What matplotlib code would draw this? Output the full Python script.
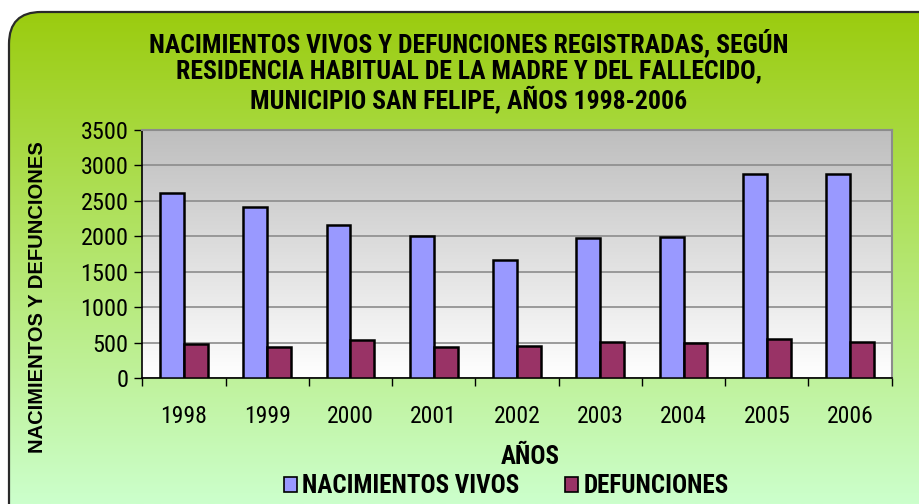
import numpy as np
import matplotlib
matplotlib.use("Agg")
import matplotlib.pyplot as plt
from matplotlib.patches import FancyBboxPatch

years = ["1998", "1999", "2000", "2001", "2002", "2003", "2004", "2005", "2006"]
nacimientos = [2610, 2410, 2155, 2005, 1670, 1975, 1990, 2885, 2885]
defunciones = [488, 437, 540, 437, 455, 512, 493, 558, 512]
series_names = ["NACIMIENTOS VIVOS", "DEFUNCIONES"]
title = ("NACIMIENTOS VIVOS Y DEFUNCIONES REGISTRADAS, SEGÚN\n"
         "RESIDENCIA HABITUAL DE LA MADRE Y DEL FALLECIDO,\n"
         "MUNICIPIO SAN FELIPE, AÑOS 1998-2006")
yticks = [0, 500, 1000, 1500, 2000, 2500, 3000, 3500]

W, H = 919, 504
fig = plt.figure(figsize=(W / 100, H / 100), dpi=100, facecolor="white")

narrow = ["Roboto Condensed", "PT Sans Narrow", "DejaVu Sans"]
tickfont = ["Roboto Condensed", "Liberation Sans", "DejaVu Sans"]
regular = ["Liberation Sans", "DejaVu Sans"]

# Background panel: rounded box with a vertical green gradient
bg = fig.add_axes([0, 0, 1, 1], zorder=-2)
bg.set_xlim(0, W)
bg.set_ylim(H, 0)
bg.axis("off")
top_c = np.array([155, 204, 15]) / 255
bot_c = np.array([204, 255, 204]) / 255
t = np.linspace(0, 1, 256)[:, None]
grad = (top_c[None, :] * (1 - t) + bot_c[None, :] * t)[:, None, :]
panel = FancyBboxPatch((9, 12), 1000, 600, boxstyle="round,pad=0,rounding_size=32",
                       facecolor="none", edgecolor="#2a2a2a", linewidth=1.6,
                       transform=bg.transData, zorder=3)
bg.add_patch(panel)
im = bg.imshow(grad, extent=(9, W, 504, 12), aspect="auto", zorder=1, interpolation="bilinear")
im.set_clip_path(panel)

# Plot area
left, right = 142.3, 891.7
top, bottom = 130.0, 378.3
ax = fig.add_axes([left / W, 1 - bottom / H, (right - left) / W, (bottom - top) / H])
ax.set_ylim(0, 3500)
n = len(years)
ax.set_xlim(-0.5, n - 0.5)
ax.patch.set_alpha(0)

# gray-to-white gradient inside the plot area
pg = np.linspace(0, 1, 256)[:, None]
pc = (np.array([190, 190, 190]) / 255)[None, :] * (1 - pg) + np.array([1, 1, 1])[None, :] * pg
ax.imshow(pc[:, None, :], extent=(-0.5, n - 0.5, 0, 3500), aspect="auto", zorder=0,
          interpolation="bilinear")

x = np.arange(n)
bw = 1 / 3.5
ax.bar(x - bw / 2, nacimientos, width=bw, color="#9999FF", edgecolor="black",
       linewidth=1.8, zorder=3, label=series_names[0])
ax.bar(x + bw / 2, defunciones, width=bw, color="#993366", edgecolor="black",
       linewidth=1.8, zorder=3, label=series_names[1])

ax.set_yticks(yticks)
ax.yaxis.grid(True, color="#8c8c8c", linewidth=1.2, zorder=1)
ax.set_xticks(x)
ax.set_xticklabels(years, fontfamily=tickfont, fontsize=17)
ax.set_xticks(np.arange(n + 1) - 0.5, minor=True)
ax.tick_params(axis="x", which="major", length=0, pad=19)
ax.tick_params(axis="x", which="minor", length=6, width=1, color="black", direction="out")
ax.tick_params(axis="y", length=6, width=1, color="black", pad=4)
for lbl in ax.get_yticklabels():
    lbl.set_fontfamily(tickfont)
    lbl.set_fontsize(17.5)

ax.spines["left"].set_color("black")
ax.spines["bottom"].set_color("black")
ax.spines["left"].set_linewidth(1.2)
ax.spines["bottom"].set_linewidth(1.2)
ax.spines["top"].set_color("#8c8c8c")
ax.spines["right"].set_color("#8c8c8c")
ax.spines["top"].set_linewidth(1.5)
ax.spines["right"].set_linewidth(1.5)

# Texts
fig.text(469 / W, 1 - 71 / H, title, ha="center", va="center", fontfamily=narrow,
         fontweight="bold", fontsize=18.5, linespacing=1.1)
fig.text(38 / W, 1 - 297 / H, "NACIMIENTOS Y DEFUNCIONES", rotation=90, ha="center",
         va="center", fontfamily=regular, fontweight="bold", fontsize=14.5)
fig.text(530 / W, 1 - 457 / H, "AÑOS", ha="center", va="center", fontfamily=narrow,
         fontweight="bold", fontsize=18)

leg = fig.legend(loc="center", bbox_to_anchor=(506 / W, 1 - 486 / H), ncol=2, frameon=False,
                 prop={"family": narrow, "weight": "bold", "size": 18},
                 handlelength=0.55, handleheight=0.55, handletextpad=0.2, columnspacing=1.8)
for h in leg.legend_handles:
    h.set_linewidth(1.2)

fig.savefig("out.png", dpi=100, facecolor="white")
